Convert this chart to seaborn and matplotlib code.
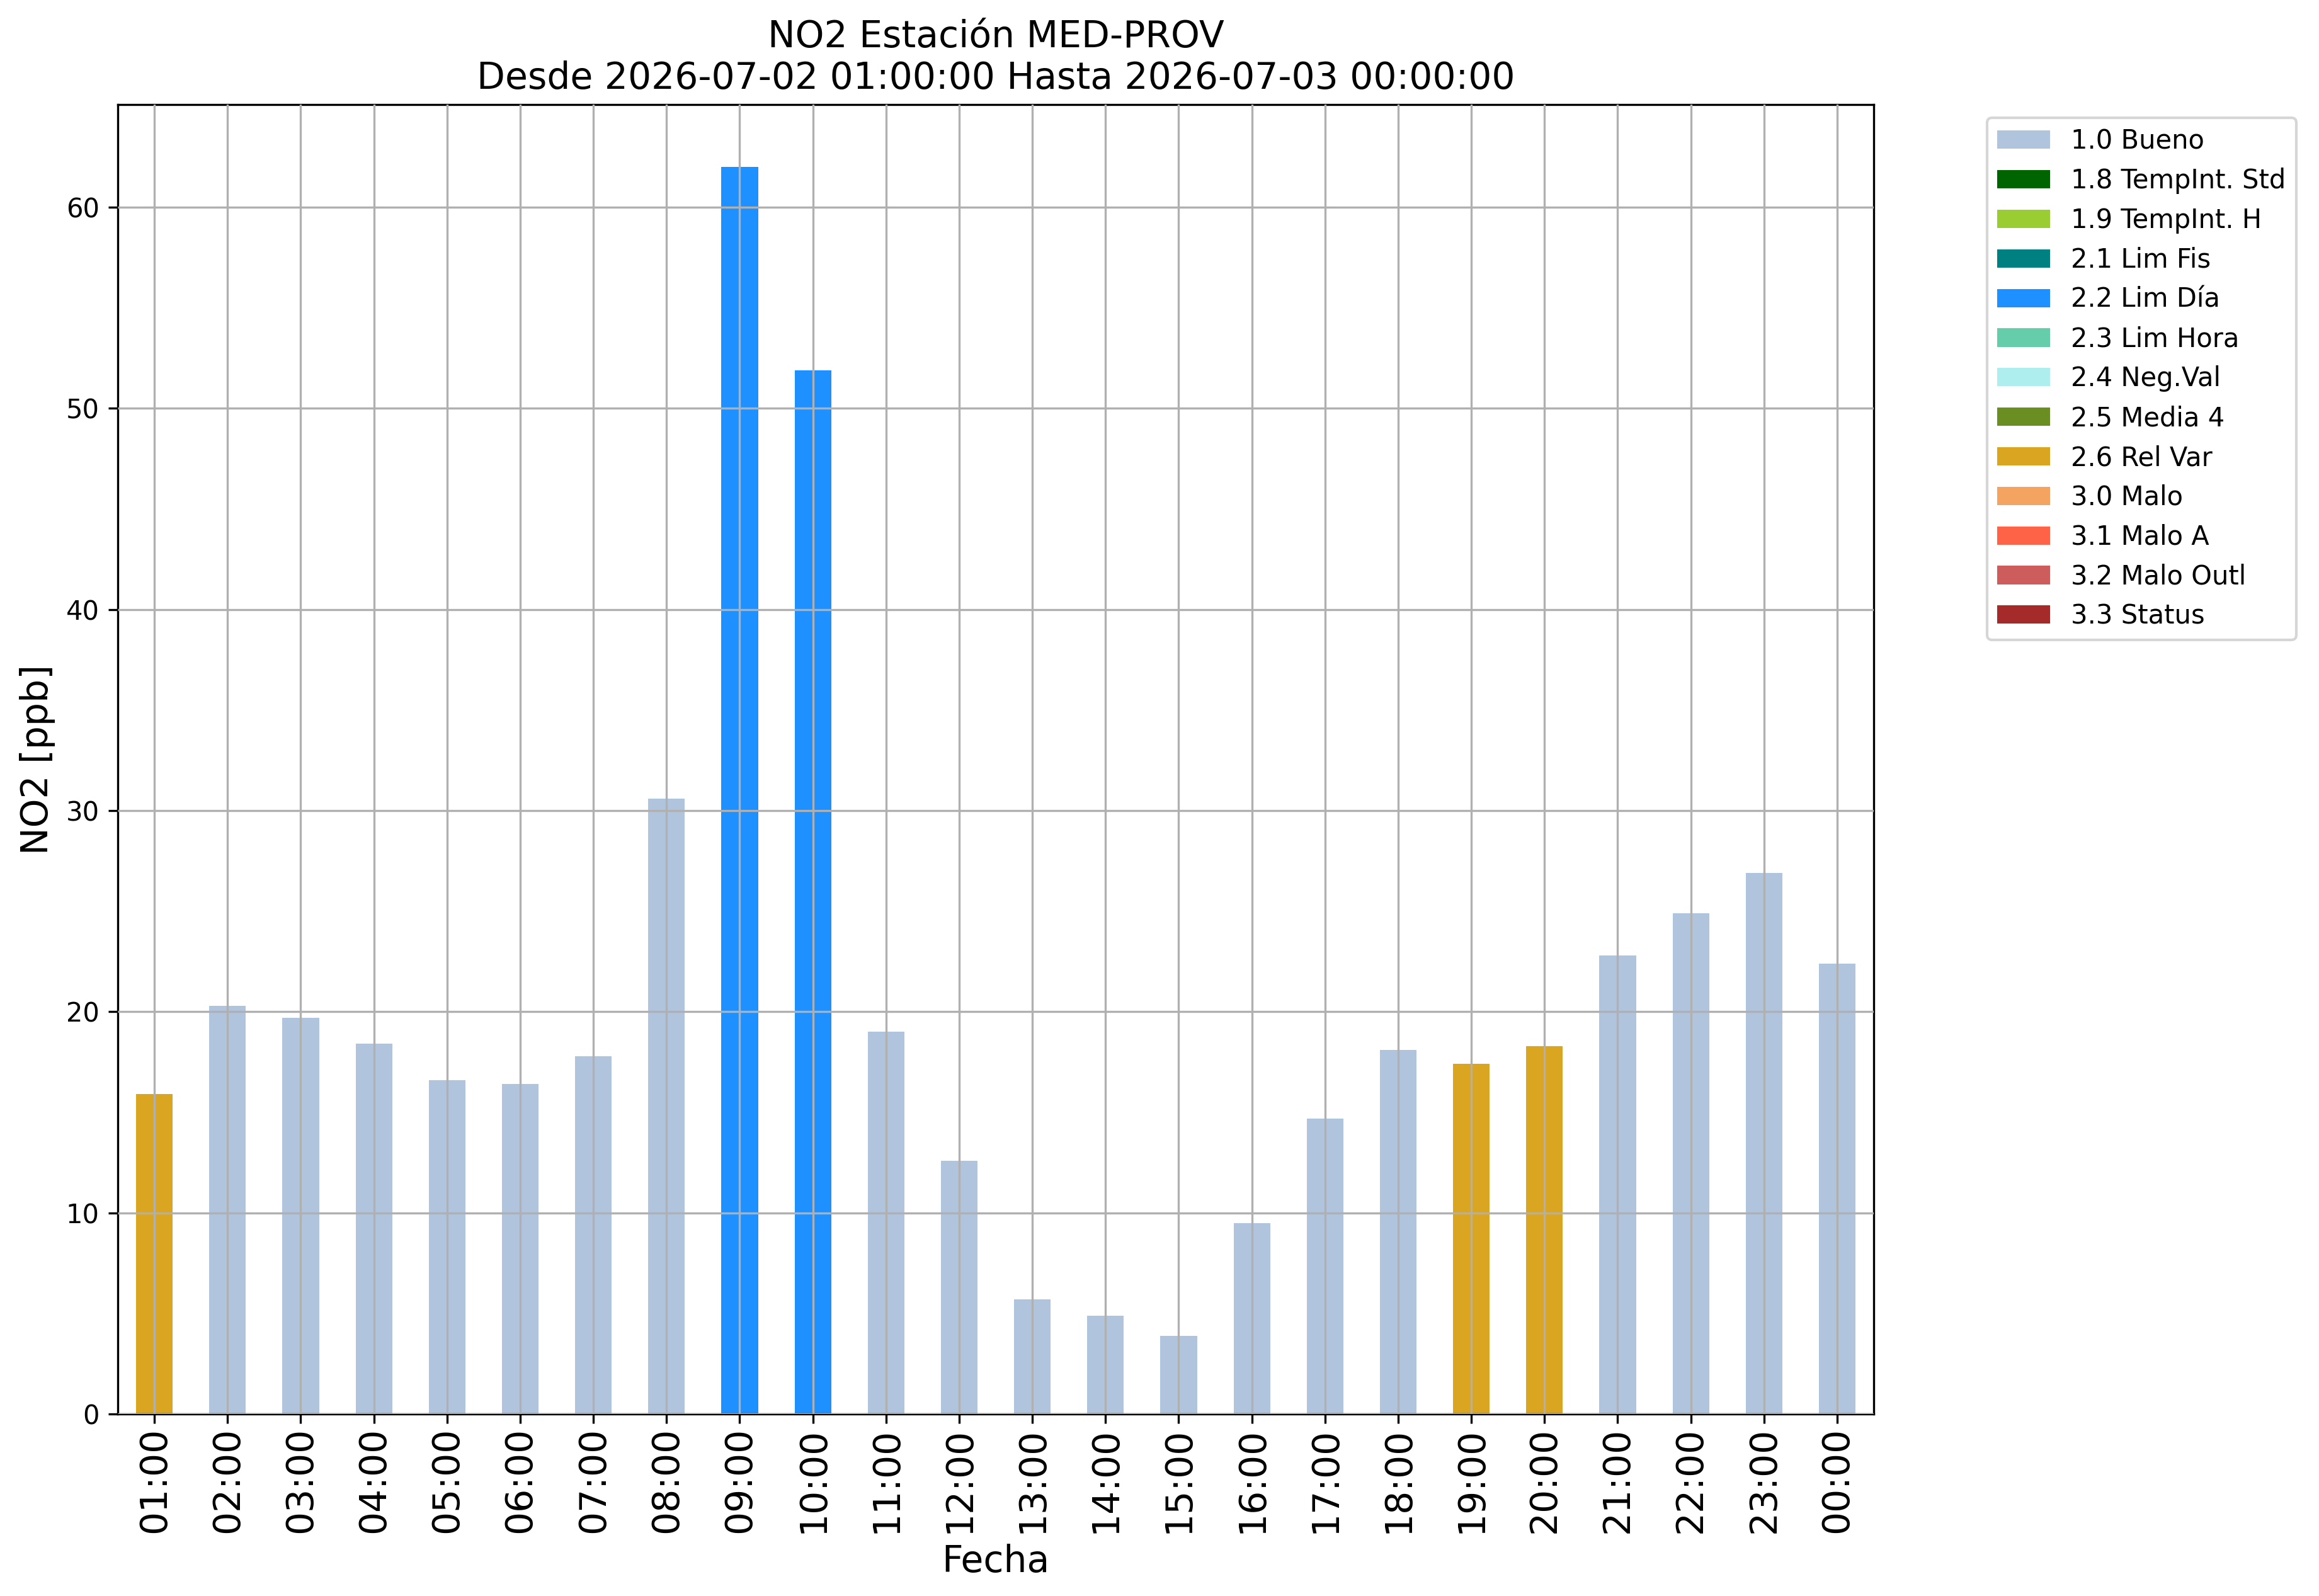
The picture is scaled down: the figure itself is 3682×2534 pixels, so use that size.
import pandas as pd
import seaborn as sns
import matplotlib.pyplot as plt
from matplotlib.patches import Patch

# Hourly NO2 values and their quality flag
horas = ["01:00", "02:00", "03:00", "04:00", "05:00", "06:00", "07:00", "08:00",
         "09:00", "10:00", "11:00", "12:00", "13:00", "14:00", "15:00", "16:00",
         "17:00", "18:00", "19:00", "20:00", "21:00", "22:00", "23:00", "00:00"]
valores = [15.9, 20.3, 19.7, 18.4, 16.6, 16.4, 17.8, 30.6,
           62.0, 51.9, 19.0, 12.6, 5.7, 4.9, 3.9, 9.5,
           14.7, 18.1, 17.4, 18.3, 22.8, 24.9, 26.9, 22.4]
calidad = ["2.6 Rel Var", "1.0 Bueno", "1.0 Bueno", "1.0 Bueno", "1.0 Bueno", "1.0 Bueno",
           "1.0 Bueno", "1.0 Bueno", "2.2 Lim Día", "2.2 Lim Día", "1.0 Bueno", "1.0 Bueno",
           "1.0 Bueno", "1.0 Bueno", "1.0 Bueno", "1.0 Bueno", "1.0 Bueno", "1.0 Bueno",
           "2.6 Rel Var", "2.6 Rel Var", "1.0 Bueno", "1.0 Bueno", "1.0 Bueno", "1.0 Bueno"]

# Legend categories and colours
etiquetas = ["1.0 Bueno", "1.8 TempInt. Std", "1.9 TempInt. H", "2.1 Lim Fis",
             "2.2 Lim Día", "2.3 Lim Hora", "2.4 Neg.Val", "2.5 Media 4",
             "2.6 Rel Var", "3.0 Malo", "3.1 Malo A", "3.2 Malo Outl", "3.3 Status"]
colores = ["lightsteelblue", "darkgreen", "yellowgreen", "teal",
           "dodgerblue", "mediumaquamarine", "paleturquoise", "olivedrab",
           "goldenrod", "sandybrown", "tomato", "indianred", "brown"]
paleta = dict(zip(etiquetas, colores))

df = pd.DataFrame({"Fecha": horas, "NO2": valores, "Calidad": calidad})

fig, ax = plt.subplots(figsize=(3682 / 300, 2534 / 300))
fig.subplots_adjust(left=0.0508, right=0.808, bottom=0.114, top=0.9345)

sns.barplot(data=df, x="Fecha", y="NO2", hue="Calidad", order=horas,
            palette=paleta, dodge=False, width=0.5, saturation=1,
            linewidth=0, legend=False, ax=ax)

ax.set_xlim(-0.5, len(horas) - 0.5)
ax.grid(True)
ax.set_axisbelow(False)

ax.set_title("NO2 Estación MED-PROV\nDesde 2026-07-02 01:00:00 Hasta 2026-07-03 00:00:00",
             fontsize=14)
ax.set_xlabel("Fecha", fontsize=14)
ax.set_ylabel("NO2 [ppb]", fontsize=14)
ax.tick_params(axis="x", labelsize=14, labelrotation=90, pad=1.5)
ax.tick_params(axis="y", labelsize=10)

handles = [Patch(facecolor=c, label=l) for l, c in zip(etiquetas, colores)]
ax.legend(handles=handles, loc="upper left", bbox_to_anchor=(1.057, 1), fontsize=10)

fig.savefig("out.png", dpi=300)
